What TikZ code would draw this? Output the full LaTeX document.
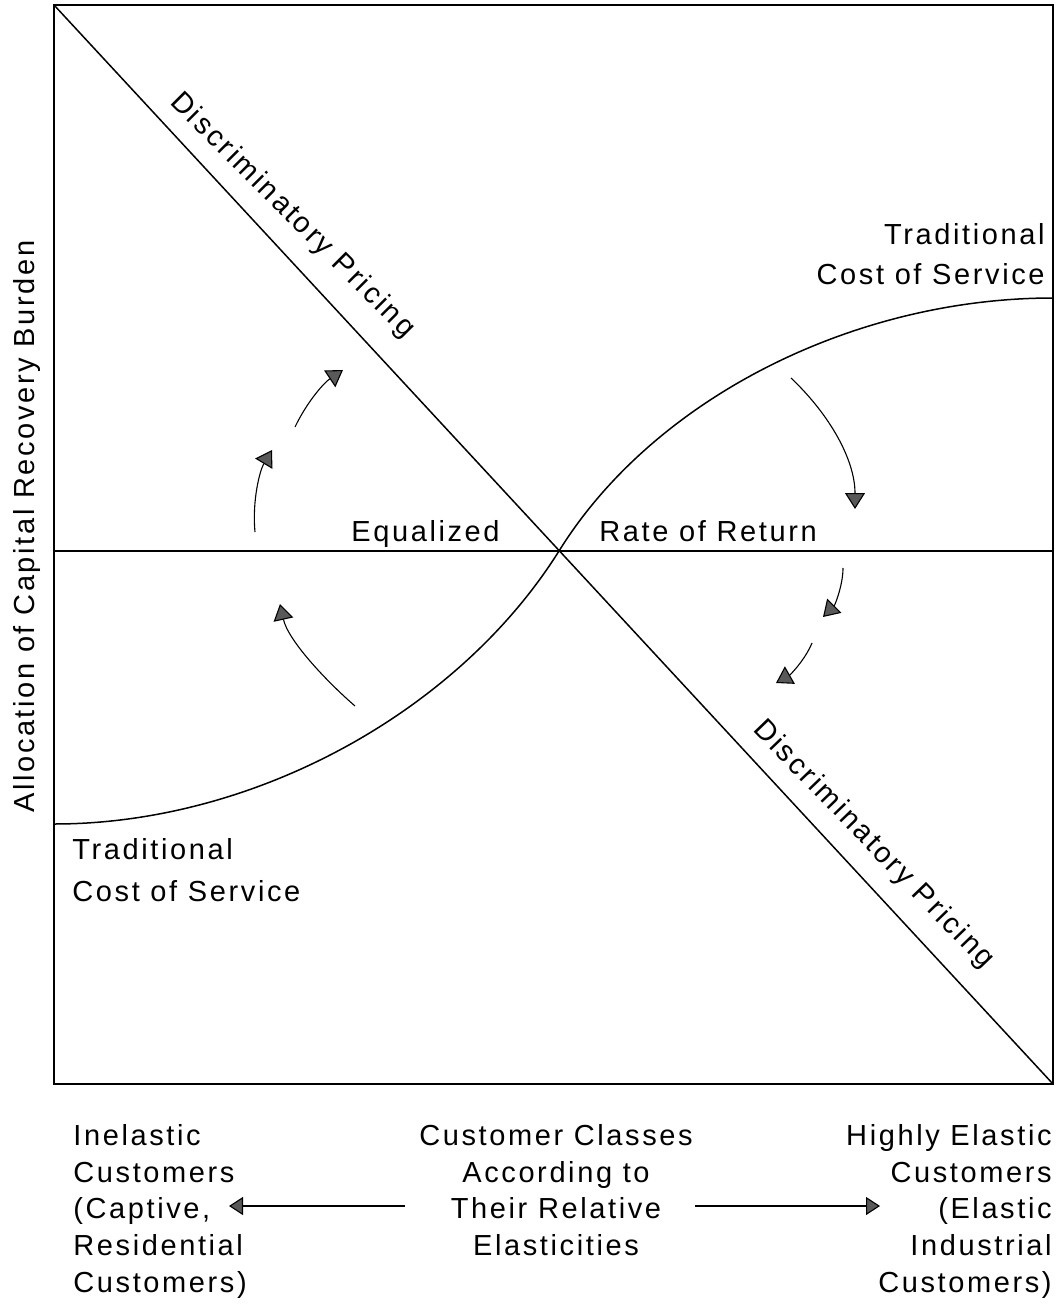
\documentclass[tikz,border=0pt]{standalone}
\usepackage{fontspec}
\setmainfont{Liberation Sans}[LetterSpace=9]
\usetikzlibrary{arrows.meta}
\begin{document}
\begin{tikzpicture}[x=0.5pt,y=-0.5pt,
  lbl/.style={inner sep=0pt,font=\fontsize{14.5}{18}\selectfont},
  frame/.style={line width=1pt},
  thinline/.style={line width=0.75pt},
  flow/.style={line width=0.55pt,-{Triangle[length=8pt,width=10pt,fill=black!65]}},
  sideflow/.style={line width=0.55pt,-{Triangle[length=7pt,width=9pt,fill=black!65]}}
]
\useasboundingbox (0,0) rectangle (1058,1316);
% frame corners
\coordinate (TL) at (54,5);
\coordinate (BR) at (1053,1084);
\coordinate (ML) at (54,551);
\coordinate (MR) at (1053,551);
\coordinate (X) at (559,551);
\coordinate (C0) at (54,824);
\coordinate (C1) at (1053,298);
\draw[frame] (TL) rectangle (BR);
\draw[thinline] (TL) -- (BR);
\draw[thinline] (ML) -- (MR);
\draw[thinline] (C0) .. controls (254,824) and (458,712) .. (X)
                     .. controls (654,398) and (854,298) .. (C1);
% curved arrows, left
\coordinate (a1s) at (355,706); \coordinate (a1e) at (280,604);
\coordinate (a2s) at (255,532); \coordinate (a2e) at (272,450);
\coordinate (a3s) at (295,427); \coordinate (a3e) at (343,370);
\draw[flow] (a1s) .. controls (325,680) and (288,640) .. (a1e);
\draw[flow] (a2s) .. controls (252,500) and (260,470) .. (a2e);
\draw[flow] (a3s) .. controls (308,400) and (325,382) .. (a3e);
% curved arrows, right
\coordinate (b1s) at (791,378); \coordinate (b1e) at (855,509);
\coordinate (b2s) at (843,568); \coordinate (b2e) at (823,617);
\coordinate (b3s) at (812,643); \coordinate (b3e) at (776,683);
\draw[flow] (b1s) .. controls (830,415) and (855,460) .. (b1e);
\draw[flow] (b2s) .. controls (843,585) and (835,605) .. (b2e);
\draw[flow] (b3s) .. controls (805,660) and (790,675) .. (b3e);
% labels inside
\node[lbl,anchor=base west,rotate=-45] (dp1) at (169,103) {Discriminatory Pricing};
\node[lbl,anchor=base west,rotate=-46] (dp2) at (752,730) {Discriminatory Pricing};
\node[lbl,anchor=base west] (eq) at (351,541) {Equalized};
\node[lbl,anchor=base west] (ror) at (599,541) {Rate of Return};
\node[lbl,anchor=base east] (tr1) at (1045,245) {Traditional};
\node[lbl,anchor=base east] (tr2) at (1045,285) {Cost of Service};
\node[lbl,anchor=base west] (tl1) at (72,859) {Traditional};
\node[lbl,anchor=base west] (tl2) at (72,901) {Cost of Service};
% y axis label
\node[lbl,anchor=base west,rotate=90] (yl) at (34,813) {Allocation of Capital Recovery Burden};
% bottom texts
\node[lbl,anchor=base west] (l1) at (73,1145) {Inelastic};
\node[lbl,anchor=base west] (l2) at (73,1182) {Customers};
\node[lbl,anchor=base west] (l3) at (73,1218) {(Captive,};
\node[lbl,anchor=base west] (l4) at (73,1255) {Residential};
\node[lbl,anchor=base west] (l5) at (73,1292) {Customers)};
\node[lbl,anchor=base] (c1) at (556,1145) {Customer Classes};
\node[lbl,anchor=base] (c2) at (556,1182) {According to};
\node[lbl,anchor=base] (c3) at (556,1218) {Their Relative};
\node[lbl,anchor=base] (c4) at (556,1255) {Elasticities};
\node[lbl,anchor=base east] (r1) at (1052,1145) {Highly Elastic};
\node[lbl,anchor=base east] (r2) at (1052,1182) {Customers};
\node[lbl,anchor=base east] (r3) at (1052,1218) {(Elastic};
\node[lbl,anchor=base east] (r4) at (1052,1255) {Industrial};
\node[lbl,anchor=base east] (r5) at (1052,1292) {Customers)};
\coordinate (la1) at (405,1206); \coordinate (la2) at (229,1206);
\coordinate (ra1) at (695,1206); \coordinate (ra2) at (880,1206);
\draw[sideflow] (la1) -- (la2);
\draw[sideflow] (ra1) -- (ra2);
\end{tikzpicture}
\end{document}
